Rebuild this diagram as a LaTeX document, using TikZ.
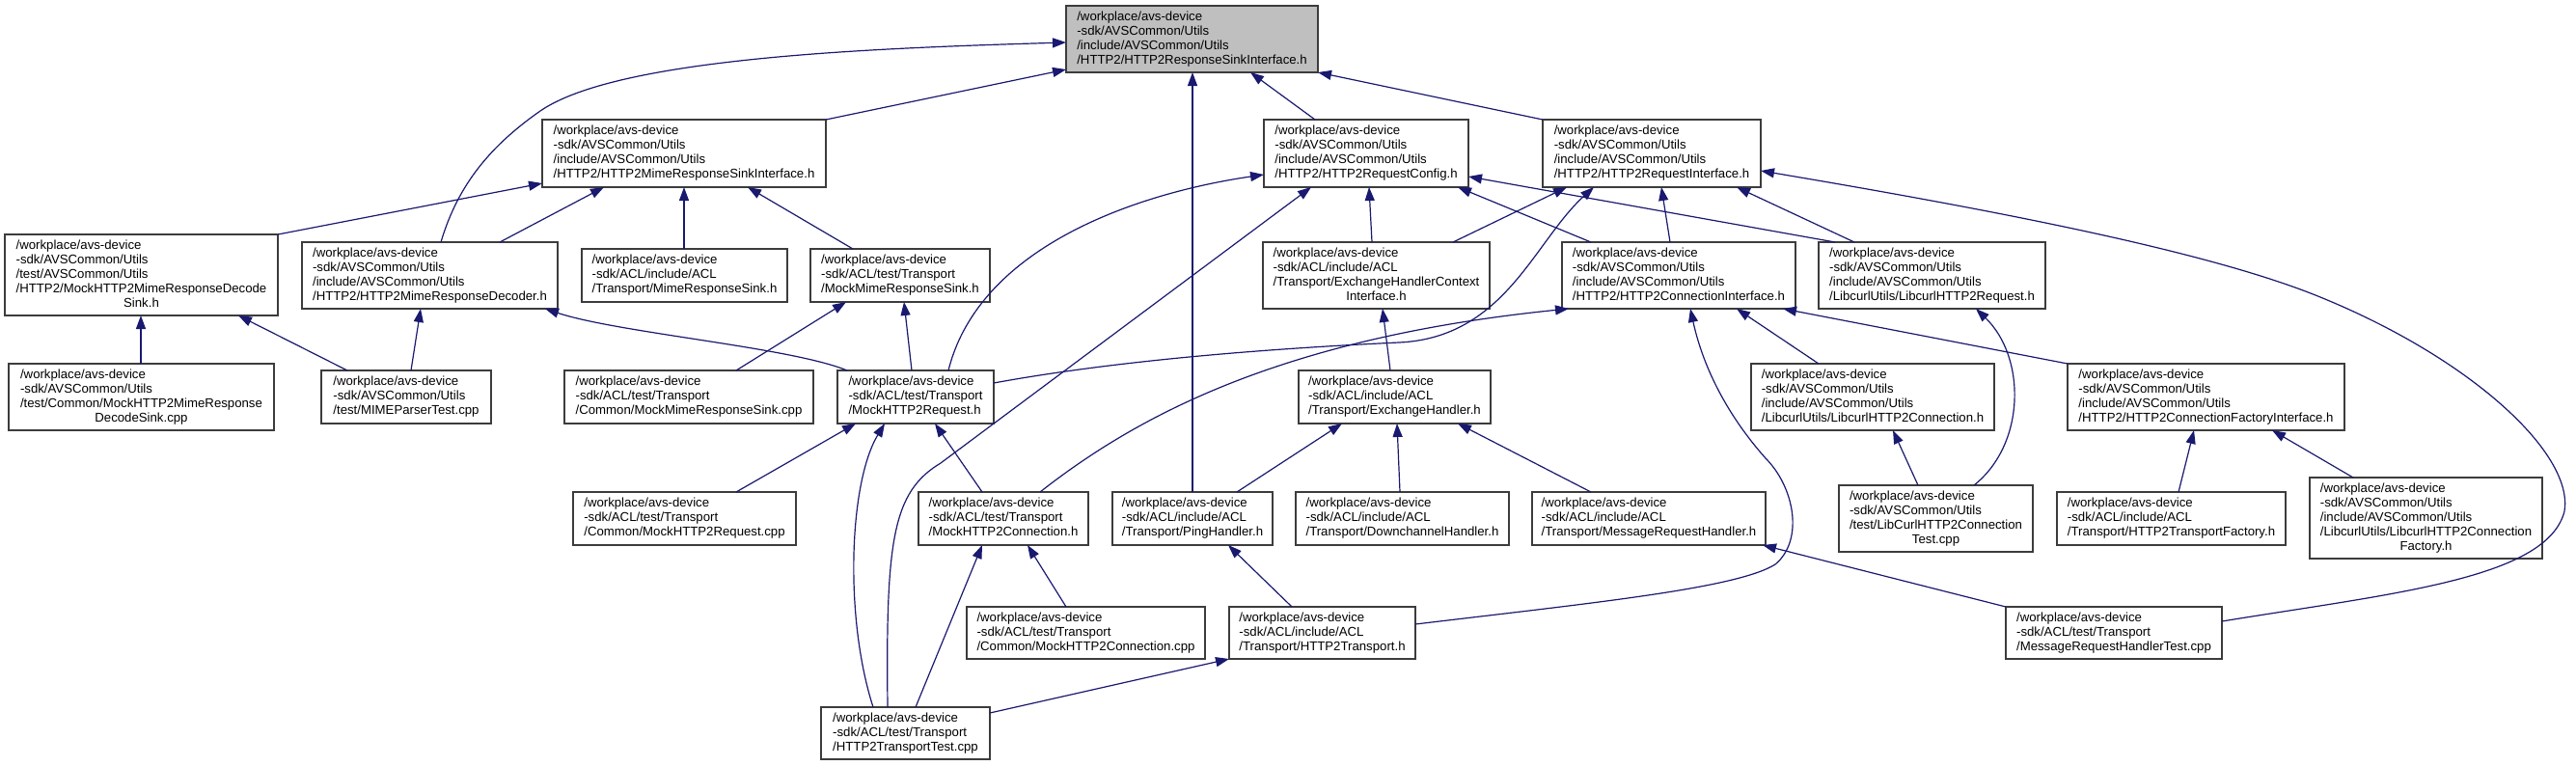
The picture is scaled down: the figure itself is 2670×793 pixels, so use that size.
\documentclass[tikz,border=0pt]{standalone}
\usepackage{fontspec}
\setmainfont{Liberation Sans}
\usetikzlibrary{arrows.meta}
\definecolor{edgeblue}{RGB}{25,25,112}
\definecolor{boxline}{RGB}{60,60,60}
\definecolor{rootfill}{RGB}{191,191,191}
\newcommand\cenline[1]{\multicolumn{1}{@{}c@{}}{#1}}
\newcommand\bx[7][]{\node[box,#1,minimum width={#5pt-#3pt},minimum height={#6pt-#4pt}] (#2) at ({(#3+#5)/2},{(#4+#6)/2}) {\begin{tabular}{@{}l@{}}#7\end{tabular}};}
\begin{document}
\begin{tikzpicture}[x=1pt,y=-1pt,font=\fontsize{13.2}{15}\selectfont,
  box/.style={draw=boxline,line width=1.3pt,fill=white,inner sep=0pt,outer sep=0pt,rectangle},
  e/.style={draw=edgeblue,line width=1.2pt,-{Triangle[length=14pt,width=10pt]}}]
\fill[white] (0,0) rectangle (2670,793);
\useasboundingbox (0,0) rectangle (2670,793);
% nodes
\bx[fill=rootfill]{n0}{1105}{6}{1366}{75}{/workplace/avs-device\\-sdk/AVSCommon/Utils\\/include/AVSCommon/Utils\\/HTTP2/HTTP2ResponseSinkInterface.h}
\bx{n1}{562}{124}{856}{194}{/workplace/avs-device\\-sdk/AVSCommon/Utils\\/include/AVSCommon/Utils\\/HTTP2/HTTP2MimeResponseSinkInterface.h}
\bx{n2}{1310}{124}{1522}{194}{/workplace/avs-device\\-sdk/AVSCommon/Utils\\/include/AVSCommon/Utils\\/HTTP2/HTTP2RequestConfig.h}
\bx{n3}{1599}{124}{1825}{194}{/workplace/avs-device\\-sdk/AVSCommon/Utils\\/include/AVSCommon/Utils\\/HTTP2/HTTP2RequestInterface.h}
\bx{n4}{5}{243}{288}{327}{/workplace/avs-device\\-sdk/AVSCommon/Utils\\/test/AVSCommon/Utils\\/HTTP2/MockHTTP2MimeResponseDecode\\\cenline{Sink.h}}
\bx{n5}{313}{251}{578}{320}{/workplace/avs-device\\-sdk/AVSCommon/Utils\\/include/AVSCommon/Utils\\/HTTP2/HTTP2MimeResponseDecoder.h}
\bx{n6}{603}{258}{816}{313}{/workplace/avs-device\\-sdk/ACL/include/ACL\\/Transport/MimeResponseSink.h}
\bx{n7}{840}{258}{1026}{313}{/workplace/avs-device\\-sdk/ACL/test/Transport\\/MockMimeResponseSink.h}
\bx{n8}{1309}{251}{1544}{320}{/workplace/avs-device\\-sdk/ACL/include/ACL\\/Transport/ExchangeHandlerContext\\\cenline{Interface.h}}
\bx{n9}{1619}{251}{1861}{320}{/workplace/avs-device\\-sdk/AVSCommon/Utils\\/include/AVSCommon/Utils\\/HTTP2/HTTP2ConnectionInterface.h}
\bx{n10}{1885}{251}{2120}{320}{/workplace/avs-device\\-sdk/AVSCommon/Utils\\/include/AVSCommon/Utils\\/LibcurlUtils/LibcurlHTTP2Request.h}
\bx{n11}{9}{377}{284}{446}{/workplace/avs-device\\-sdk/AVSCommon/Utils\\/test/Common/MockHTTP2MimeResponse\\\cenline{DecodeSink.cpp}}
\bx{n12}{333}{384}{509}{439}{/workplace/avs-device\\-sdk/AVSCommon/Utils\\/test/MIMEParserTest.cpp}
\bx{n13}{585}{384}{843}{439}{/workplace/avs-device\\-sdk/ACL/test/Transport\\/Common/MockMimeResponseSink.cpp}
\bx{n14}{868}{384}{1030}{439}{/workplace/avs-device\\-sdk/ACL/test/Transport\\/MockHTTP2Request.h}
\bx{n15}{1346}{384}{1545}{439}{/workplace/avs-device\\-sdk/ACL/include/ACL\\/Transport/ExchangeHandler.h}
\bx{n16}{1815}{377}{2067}{446}{/workplace/avs-device\\-sdk/AVSCommon/Utils\\/include/AVSCommon/Utils\\/LibcurlUtils/LibcurlHTTP2Connection.h}
\bx{n17}{2143}{377}{2430}{446}{/workplace/avs-device\\-sdk/AVSCommon/Utils\\/include/AVSCommon/Utils\\/HTTP2/HTTP2ConnectionFactoryInterface.h}
\bx{n18}{594}{510}{825}{565}{/workplace/avs-device\\-sdk/ACL/test/Transport\\/Common/MockHTTP2Request.cpp}
\bx{n19}{952}{510}{1128}{565}{/workplace/avs-device\\-sdk/ACL/test/Transport\\/MockHTTP2Connection.h}
\bx{n20}{1153}{510}{1319}{565}{/workplace/avs-device\\-sdk/ACL/include/ACL\\/Transport/PingHandler.h}
\bx{n21}{1343}{510}{1564}{565}{/workplace/avs-device\\-sdk/ACL/include/ACL\\/Transport/DownchannelHandler.h}
\bx{n22}{1588}{510}{1830}{565}{/workplace/avs-device\\-sdk/ACL/include/ACL\\/Transport/MessageRequestHandler.h}
\bx{n23}{1906}{503}{2107}{572}{/workplace/avs-device\\-sdk/AVSCommon/Utils\\/test/LibCurlHTTP2Connection\\\cenline{Test.cpp}}
\bx{n24}{2132}{510}{2369}{565}{/workplace/avs-device\\-sdk/ACL/include/ACL\\/Transport/HTTP2TransportFactory.h}
\bx{n25}{2394}{495}{2635}{579}{/workplace/avs-device\\-sdk/AVSCommon/Utils\\/include/AVSCommon/Utils\\/LibcurlUtils/LibcurlHTTP2Connection\\\cenline{Factory.h}}
\bx{n26}{1002}{629}{1249}{683}{/workplace/avs-device\\-sdk/ACL/test/Transport\\/Common/MockHTTP2Connection.cpp}
\bx{n27}{1274}{629}{1467}{683}{/workplace/avs-device\\-sdk/ACL/include/ACL\\/Transport/HTTP2Transport.h}
\bx{n28}{2079}{629}{2303}{683}{/workplace/avs-device\\-sdk/ACL/test/Transport\\/MessageRequestHandlerTest.cpp}
\bx{n29}{851}{733}{1026}{787}{/workplace/avs-device\\-sdk/ACL/test/Transport\\/HTTP2TransportTest.cpp}
% edges
\draw[e] (n1.north east) -- (n0.west |- 0,72);
\draw[e] (457,0 |- n5.north) .. controls (475,190) and (510,150) .. (560,115) .. controls (640,60) and (900,50) .. (n0.west |- 0,44);
\draw[e] (1363,0 |- n2.north) -- (1296,0 |- n0.south);
\draw[e] (n3.north west) -- (n0.south east);
\draw[e] (n20.north) -- (n20.north |- n0.south);
\draw[e] (n4.north east) -- (n1.west |- 0,190);
\draw[e] (518,0 |- n5.north) -- (626,0 |- n1.south);
\draw[e] (709,0 |- n6.north) -- (709,0 |- n1.south);
\draw[e] (884,0 |- n7.north) -- (775,0 |- n1.south);
\draw[e] (983,0 |- n14.north) .. controls (1015,255) and (1180,200) .. (n2.west |- 0,181);
\draw[e] (920,0 |- n29.north) .. controls (918,560) and (925,510) .. (975,480) -- (1359,0 |- n2.south);
\draw[e] (1649,0 |- n9.north) -- (1511,0 |- n2.south);
\draw[e] (1422,0 |- n8.north) -- (1419,0 |- n2.south);
\draw[e] (1902,0 |- n10.north) -- (n2.east |- 0,183);
\draw[e] (1506,0 |- n8.north) -- (1624,0 |- n3.south);
\draw[e] (1731,0 |- n9.north) -- (1722,0 |- n3.south);
\draw[e] (1922,0 |- n10.north) -- (1800,0 |- n3.south);
\draw[e] (n14.east |- 0,397) .. controls (1150,375) and (1300,362) .. (1450,355) .. controls (1560,350) and (1590,250) .. (1652,0 |- n3.south);
\draw[e] (1078,0 |- n19.north) .. controls (1180,430) and (1330,350) .. (1626,0 |- n9.south);
\draw[e] (n28.east |- 0,644) .. controls (2480,615) and (2640,600) .. (2658,530) .. controls (2668,470) and (2560,370) .. (2400,306) .. controls (2280,258) and (2050,215) .. (n3.east |- 0,177);
\draw[e] (n27.east |- 0,647) .. controls (1650,625) and (1800,610) .. (1840,585) .. controls (1870,560) and (1860,505) .. (1830,475) .. controls (1790,430) and (1765,380) .. (1752,0 |- n9.south);
\draw[e] (2046,0 |- n23.north) .. controls (2100,460) and (2100,370) .. (2048,0 |- n10.south);
\draw[e] (1885,0 |- n16.north) -- (1800,0 |- n9.south);
\draw[e] (n17.north west) -- (1848,0 |- n9.south);
\draw[e] (1988,0 |- n23.north) -- (1962,0 |- n16.south);
\draw[e] (2258,0 |- n24.north) -- (2274,0 |- n17.south);
\draw[e] (2439,0 |- n25.north) -- (2355,0 |- n17.south);
\draw[e] (1441,0 |- n15.north) -- (1433,0 |- n8.south);
\draw[e] (1282,0 |- n20.north) -- (1391,0 |- n15.south);
\draw[e] (1451,0 |- n21.north) -- (1448,0 |- n15.south);
\draw[e] (1649,0 |- n22.north) -- (1511,0 |- n15.south);
\draw[e] (n28.north west) -- (1827,0 |- n22.south);
\draw[e] (1339,0 |- n27.north) -- (1273,0 |- n20.south);
\draw[e] (1105,0 |- n26.north) -- (1065,0 |- n19.south);
\draw[e] (949,0 |- n29.north) -- (1018,0 |- n19.south);
\draw[e] (n29.east |- 0,739) -- (n27.south west);
\draw[e] (905,0 |- n29.north) .. controls (875,640) and (880,500) .. (917,0 |- n14.south);
\draw[e] (763,0 |- n18.north) -- (887,0 |- n14.south);
\draw[e] (763,0 |- n13.north) -- (877,0 |- n7.south);
\draw[e] (945,0 |- n14.north) -- (937,0 |- n7.south);
\draw[e] (878,0 |- n14.north) .. controls (820,360) and (640,345) .. (565,0 |- n5.south);
\draw[e] (426,0 |- n12.north) -- (436,0 |- n5.south);
\draw[e] (360,0 |- n12.north) -- (247,0 |- n4.south);
\draw[e] (146,0 |- n11.north) -- (146,0 |- n4.south);
\draw[e] (1018,0 |- n19.north) -- (969,0 |- n14.south);
\end{tikzpicture}
\end{document}
